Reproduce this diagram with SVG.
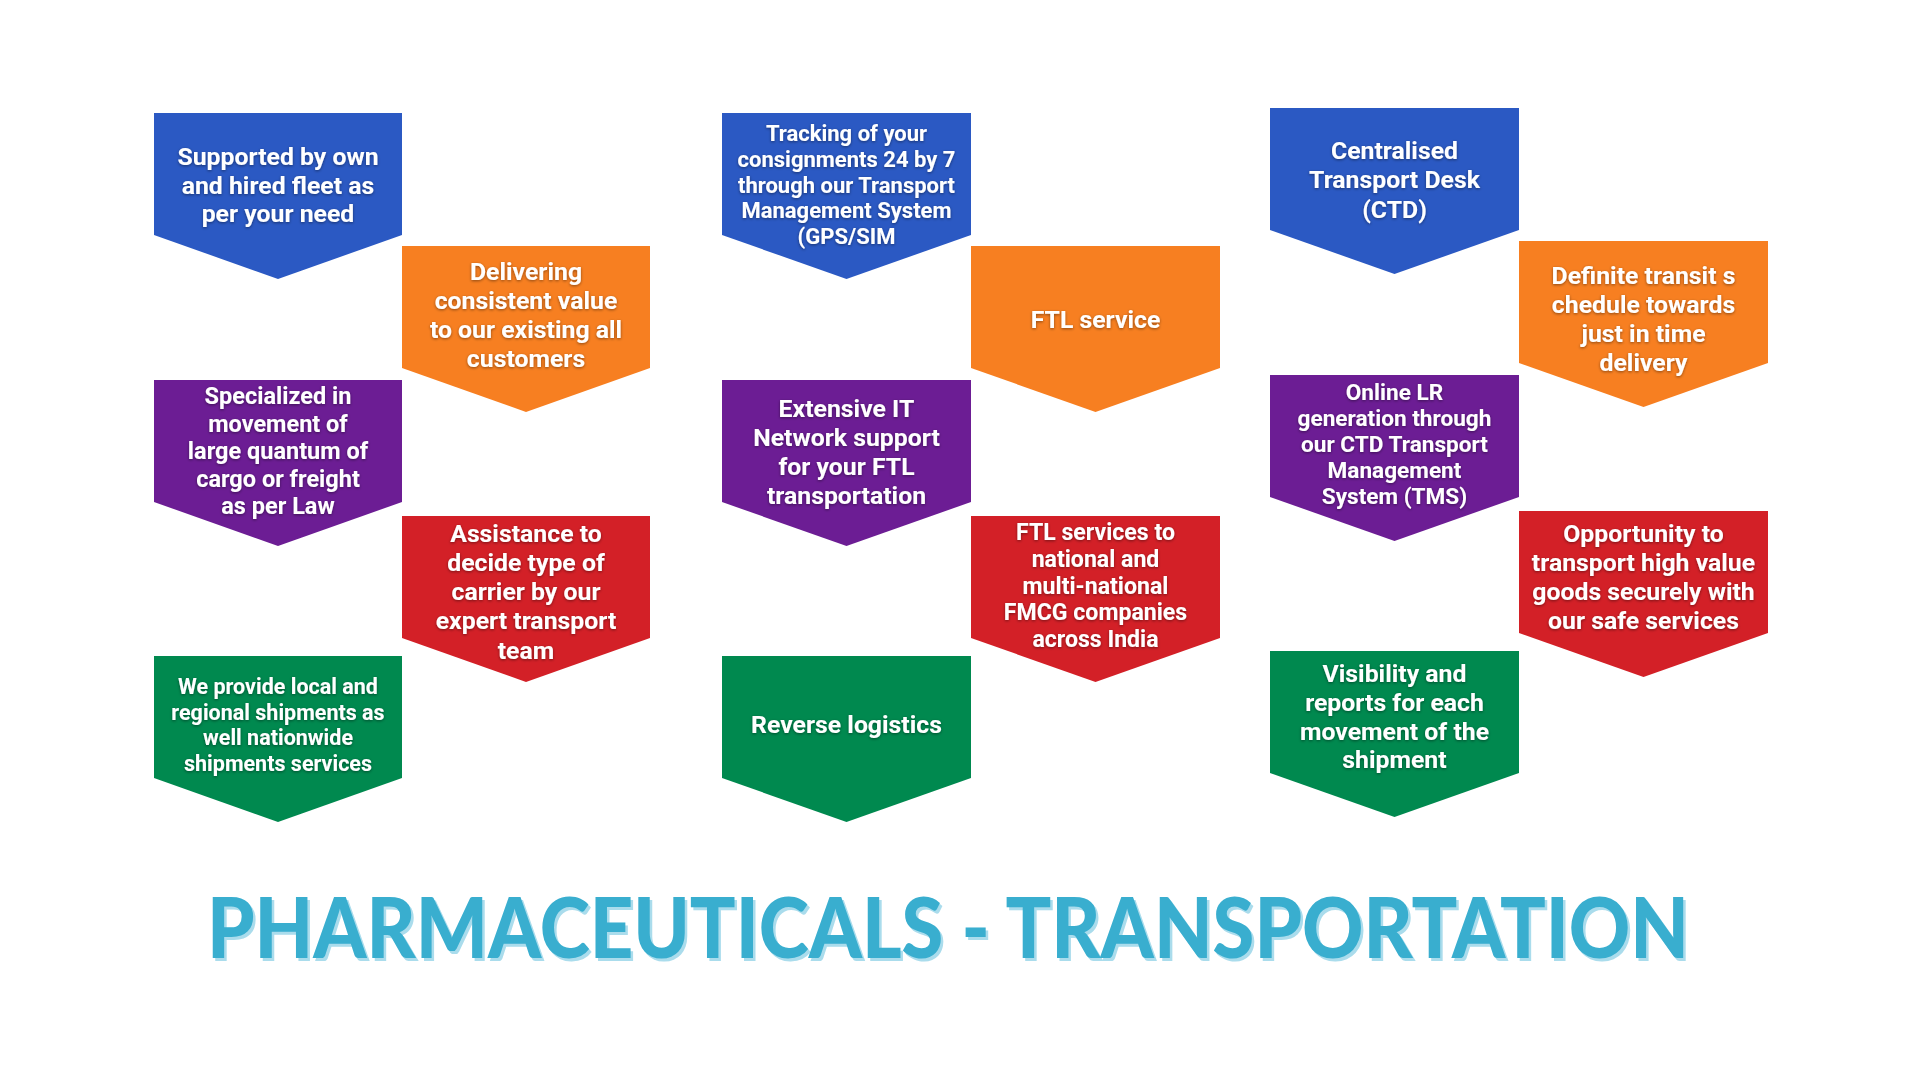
<svg xmlns="http://www.w3.org/2000/svg" width="1920" height="1078" viewBox="0 0 1920 1078">
<defs>
<style>
.blue{fill:#2b59c3}.orange{fill:#f77f21}.purple{fill:#6c1d94}.red{fill:#d32027}.green{fill:#00894f}
.t{font-family:Roboto,"Liberation Sans",sans-serif;font-weight:700;fill:#ffffff;text-anchor:middle;font-size:24.8px;filter:url(#ts)}
.title{font-family:Lato,"Open Sans","Liberation Sans",sans-serif;font-weight:900;font-size:83px}
</style>
<filter id="ts" x="-10%" y="-30%" width="120%" height="160%">
<feDropShadow dx="0" dy="1" stdDeviation="1.6" flood-color="#000" flood-opacity="0.45"/>
</filter>
</defs>
<rect width="1920" height="1078" fill="#ffffff"/>
<g id="connectors"></g>

<g id="n1">
<path class="blue" d="M154,113 h248 v122 l-124,44 l-124,-44 z"/>
<text class="t"><tspan x="278" y="165">Supported by own</tspan><tspan x="278" y="193.5">and hired fleet as</tspan><tspan x="278" y="222">per your need</tspan></text>
</g>
<g id="n2">
<path class="orange" d="M402,246 h248 v122 l-124,44 l-124,-44 z"/>
<text class="t"><tspan x="526" y="280">Delivering</tspan><tspan x="526" y="309">consistent value</tspan><tspan x="526" y="338">to our existing all</tspan><tspan x="526" y="367">customers</tspan></text>
</g>
<g id="n3">
<path class="purple" d="M154,380 h248 v122 l-124,44 l-124,-44 z"/>
<text class="t" style="font-size:23.5px"><tspan x="278" y="404.3">Specialized in</tspan><tspan x="278" y="431.8">movement of</tspan><tspan x="278" y="459.3">large quantum of</tspan><tspan x="278" y="486.8">cargo or freight</tspan><tspan x="278" y="514.3">as per Law</tspan></text>
</g>
<g id="n4">
<path class="red" d="M402,516 h248 v122 l-124,44 l-124,-44 z"/>
<text class="t"><tspan x="526" y="541.7">Assistance to</tspan><tspan x="526" y="570.9">decide type of</tspan><tspan x="526" y="600.1">carrier by our</tspan><tspan x="526" y="629.3">expert transport</tspan><tspan x="526" y="658.5">team</tspan></text>
</g>
<g id="n5">
<path class="green" d="M154,656 h248 v122 l-124,44 l-124,-44 z"/>
<text class="t" style="font-size:21.5px"><tspan x="278" y="694.3">We provide local and</tspan><tspan x="278" y="719.8">regional shipments as</tspan><tspan x="278" y="745.3">well nationwide</tspan><tspan x="278" y="770.8">shipments services</tspan></text>
</g>

<g id="n6">
<path class="blue" d="M722,113 h249 v122 l-124.5,44 l-124.5,-44 z"/>
<text class="t" style="font-size:22px"><tspan x="846.5" y="140.7">Tracking of your</tspan><tspan x="846.5" y="166.6">consignments 24 by 7</tspan><tspan x="846.5" y="192.5">through our Transport</tspan><tspan x="846.5" y="218.4">Management System</tspan><tspan x="846.5" y="244.3">(GPS/SIM</tspan></text>
</g>
<g id="n7">
<path class="orange" d="M971,246 h249 v122 l-124.5,44 l-124.5,-44 z"/>
<text class="t"><tspan x="1095.5" y="327.7">FTL service</tspan></text>
</g>
<g id="n8">
<path class="purple" d="M722,380 h249 v122 l-124.5,44 l-124.5,-44 z"/>
<text class="t"><tspan x="846.5" y="416.7">Extensive IT</tspan><tspan x="846.5" y="445.9">Network support</tspan><tspan x="846.5" y="475.1">for your FTL</tspan><tspan x="846.5" y="504.3">transportation</tspan></text>
</g>
<g id="n9">
<path class="red" d="M971,516 h249 v122 l-124.5,44 l-124.5,-44 z"/>
<text class="t" style="font-size:23.1px"><tspan x="1095.5" y="540">FTL services to</tspan><tspan x="1095.5" y="566.8">national and</tspan><tspan x="1095.5" y="593.6">multi-national</tspan><tspan x="1095.5" y="620.4">FMCG companies</tspan><tspan x="1095.5" y="647.2">across India</tspan></text>
</g>
<g id="n10">
<path class="green" d="M722,656 h249 v122 l-124.5,44 l-124.5,-44 z"/>
<text class="t"><tspan x="846.5" y="733.3">Reverse logistics</tspan></text>
</g>

<g id="n11">
<path class="blue" d="M1270,108 h249 v122 l-124.5,44 l-124.5,-44 z"/>
<text class="t"><tspan x="1394.5" y="159">Centralised</tspan><tspan x="1394.5" y="188.3">Transport Desk</tspan><tspan x="1394.5" y="217.6">(CTD)</tspan></text>
</g>
<g id="n12">
<path class="orange" d="M1519,241 h249 v122 l-124.5,44 l-124.5,-44 z"/>
<text class="t"><tspan x="1643.5" y="283.7">Definite transit s</tspan><tspan x="1643.5" y="312.8">chedule towards</tspan><tspan x="1643.5" y="341.9">just in time</tspan><tspan x="1643.5" y="371">delivery</tspan></text>
</g>
<g id="n13">
<path class="purple" d="M1270,375 h249 v122 l-124.5,44 l-124.5,-44 z"/>
<text class="t" style="font-size:22.6px"><tspan x="1394.5" y="400">Online LR</tspan><tspan x="1394.5" y="426">generation through</tspan><tspan x="1394.5" y="452">our CTD Transport</tspan><tspan x="1394.5" y="478">Management</tspan><tspan x="1394.5" y="504">System (TMS)</tspan></text>
</g>
<g id="n14">
<path class="red" d="M1519,511 h249 v122 l-124.5,44 l-124.5,-44 z"/>
<text class="t"><tspan x="1643.5" y="541.7">Opportunity to</tspan><tspan x="1643.5" y="570.9">transport high value</tspan><tspan x="1643.5" y="600.1">goods securely with</tspan><tspan x="1643.5" y="629.3">our safe services</tspan></text>
</g>
<g id="n15">
<path class="green" d="M1270,651 h249 v122 l-124.5,44 l-124.5,-44 z"/>
<text class="t"><tspan x="1394.5" y="681.7">Visibility and</tspan><tspan x="1394.5" y="710.6">reports for each</tspan><tspan x="1394.5" y="739.5">movement of the</tspan><tspan x="1394.5" y="768.4">shipment</tspan></text>
</g>

<g id="title">
<text class="title" x="209.5" y="960.5" textLength="1482" lengthAdjust="spacingAndGlyphs" fill="#aadcec">PHARMACEUTICALS - TRANSPORTATION</text>
<text class="title" x="207" y="958.3" textLength="1482" lengthAdjust="spacingAndGlyphs" fill="#39aecf">PHARMACEUTICALS - TRANSPORTATION</text>
</g>
</svg>
